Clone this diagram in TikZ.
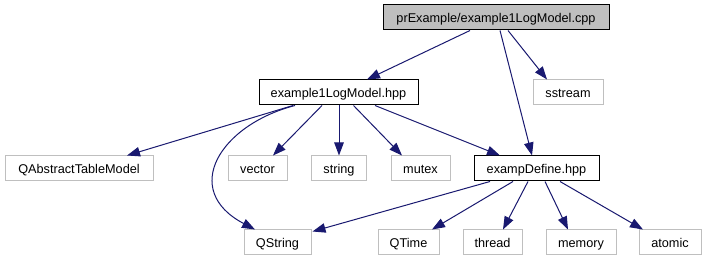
\documentclass[tikz,border=0pt]{standalone}
\usepackage{fontspec}
\setmainfont{Liberation Sans}
\usetikzlibrary{arrows.meta}
\definecolor{edgeblue}{HTML}{191970}
\definecolor{boxgray}{HTML}{BFBFBF}
\tikzset{
  filebox/.style={draw, line width=1pt, inner sep=0pt, minimum height=25pt,
    text height=9.1pt, text depth=0pt,
    font=\fontsize{12.7}{14}\selectfont, text=black},
  mainbox/.style={filebox, draw=black},
  extbox/.style={filebox, draw=boxgray},
  rootbox/.style={filebox, draw=black, fill=boxgray},
  dep/.style={draw=edgeblue, line width=1pt,
    -{Triangle[length=13pt,width=9.5pt,fill=edgeblue]}},
}
\begin{document}
\begin{tikzpicture}[x=1pt, y=-1pt]
\path[use as bounding box, fill=white] (0,0) rectangle (706,261);

% nodes
\node[rootbox, minimum width=226pt] (cpp) at (496,17.5) {prExample/example1LogModel.cpp};
\node[mainbox, minimum width=159pt] (hpp) at (338.5,92.5) {example1LogModel.hpp};
\node[extbox, minimum width=70pt] (sstream) at (568,92.5) {sstream};

\node[extbox, minimum width=148pt] (qatm) at (79,168.5) {QAbstractTableModel};
\node[extbox, minimum width=59pt] (vector) at (257.5,168.5) {vector};
\node[extbox, minimum width=55pt] (string) at (339,168.5) {string};
\node[extbox, minimum width=59pt] (mutex) at (420.5,168.5) {mutex};
\node[mainbox, minimum width=125pt] (def) at (536.5,168.5) {exampDefine.hpp};

\node[extbox, minimum width=67pt] (qstring) at (277.5,242.5) {QString};
\node[extbox, minimum width=61pt] (qtime) at (408.5,242.5) {QTime};
\node[extbox, minimum width=59pt] (thread) at (492.5,242.5) {thread};
\node[extbox, minimum width=70pt] (memory) at (581,242.5) {memory};
\node[extbox, minimum width=62pt] (atomic) at (670,242.5) {atomic};

% includes of the .cpp file
\path[dep] ([xshift=-26pt]cpp.south) -- ([xshift=28.5pt]hpp.north);
\path[dep] ([xshift=4pt]cpp.south) -- ([xshift=-4.5pt]def.north);
\path[dep] ([xshift=12pt]cpp.south) -- ([xshift=-21pt]sstream.north);

% includes of example1LogModel.hpp
\path[dep] ([xshift=-45.5pt]hpp.south) -- ([xshift=48pt]qatm.north);
\path[dep] ([xshift=-43.5pt]hpp.south) .. controls (220,125) and (180,190) .. ([xshift=-22.5pt]qstring.north);
\path[dep] ([xshift=-16.5pt]hpp.south) -- ([xshift=15.5pt]vector.north);
\path[dep] (hpp.south -| string.north) -- (string.north);
\path[dep] ([xshift=15pt]hpp.south) -- ([xshift=-18.5pt]mutex.north);
\path[dep] ([xshift=36.5pt]hpp.south) -- ([xshift=-36.5pt]def.north);

% includes of exampDefine.hpp
\path[dep] ([xshift=-46.5pt]def.south) -- ([xshift=1pt,yshift=-2pt]qstring.north east);
\path[dep] ([xshift=-23.5pt]def.south) -- ([xshift=23.5pt]qtime.north);
\path[dep] ([xshift=-8.5pt]def.south) -- ([xshift=10.5pt]thread.north);
\path[dep] ([xshift=8.5pt]def.south) -- ([xshift=-13pt]memory.north);
\path[dep] ([xshift=23.5pt]def.south) -- ([xshift=-27pt]atomic.north);
\end{tikzpicture}
\end{document}
